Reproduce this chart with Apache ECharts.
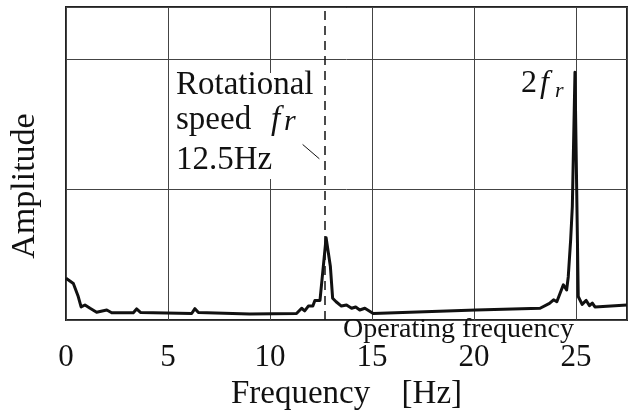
<!DOCTYPE html>
<html>
<head>
<meta charset="utf-8">
<script src="https://cdn.jsdelivr.net/npm/echarts@6/dist/echarts.min.js"></script>
<style>
html, body { margin: 0; padding: 0; background: #fff; }
#chart { width: 633px; height: 417px; }
</style>
</head>
<body>
<div id="chart"></div>
<script>
// spectrum: frequency [Hz] / amplitude (arbitrary units)
var freq = [0, 0.36, 0.6, 0.74, 0.93, 1.18, 1.5, 2.0, 2.24, 3.3, 3.46, 3.65, 6.16, 6.32, 6.49, 9.0,
	11.3, 11.55, 11.7, 11.88, 12.1, 12.2, 12.45, 12.75, 12.96, 13.07, 13.24, 13.5, 13.75, 14.0, 14.2,
	14.4, 14.65, 15.06, 20.1, 23.24, 23.7, 23.9, 24.06, 24.38, 24.46, 24.54, 24.62, 24.74, 24.82,
	24.95, 25.11, 25.3, 25.5, 25.66, 25.8, 25.93, 27.5];
var amp = [0.32, 0.28, 0.18, 0.10, 0.115, 0.09, 0.06, 0.077, 0.056, 0.056, 0.085, 0.058, 0.05, 0.087, 0.057, 0.046,
	0.05, 0.09, 0.07, 0.107, 0.107, 0.15, 0.15, 0.63, 0.41, 0.167, 0.14, 0.107, 0.115, 0.09, 0.10,
	0.077, 0.09, 0.05, 0.077, 0.09, 0.128, 0.155, 0.14, 0.27, 0.28, 0.23, 0.33, 0.62, 0.87,
	1.90, 0.18, 0.12, 0.15, 0.11, 0.13, 0.10, 0.115];
var xTicks = [0, 5, 10, 15, 20, 25];
var rotSpeed = 12.7;            // dashed marker position
var pointerX = [11.6, 12.42];   // small leader line under "12.5Hz"
var pointerY = [1.346, 1.236];

var serif = '"Liberation Serif", "DejaVu Serif", serif';
var chart = echarts.init(document.getElementById('chart'));

function txt(text, left, top, size, italic, z){
	return {
		type: 'text', left: left, top: top, z: z || 10,
		style: {
			text: text,
			font: (italic ? 'italic ' : '') + size + 'px ' + serif,
			fill: '#111'
		}
	};
}

var option = {
	animation: false,
	grid: {
		left: 66, right: 6, top: 7, bottom: 97,
		show: true,
		borderColor: '#222',
		borderWidth: 2
	},
	xAxis: {
		type: 'value',
		min: 0,
		max: 27.5,
		interval: 5,
		axisLine: { show: false },
		axisTick: { show: false },
		splitLine: { lineStyle: { color: '#444', width: 1 } },
		axisLabel: {
			color: '#111',
			fontFamily: serif,
			fontSize: 31,
			margin: 22,
			formatter: function(v){
				return xTicks.indexOf(v) >= 0 ? String(v) : '';
			}
		},
		name: 'Frequency   \u2009[Hz]',
		nameLocation: 'middle',
		nameGap: 56,
		nameTextStyle: { color: '#111', fontFamily: serif, fontSize: 33 }
	},
	yAxis: {
		type: 'value',
		min: 0,
		max: 2.4,
		interval: 1,
		axisLine: { show: false },
		axisTick: { show: false },
		axisLabel: { show: false },
		splitLine: { lineStyle: { color: '#444', width: 1 } }
	},
	series: [
		{
			type: 'line',
			z: 5,
			data: freq.map(function(f, i){ return [f, amp[i]]; }),
			symbol: 'none',
			lineStyle: { color: '#111', width: 3, join: 'round' },
			markLine: {
				silent: true,
				symbol: 'none',
				label: { show: false },
				lineStyle: { color: '#111', width: 1.5, type: [9, 6] },
				data: [{ xAxis: rotSpeed }]
			}
		},
		{
			type: 'line',
			z: 5,
			data: pointerX.map(function(f, i){ return [f, pointerY[i]]; }),
			symbol: 'none',
			lineStyle: { color: '#111', width: 1 }
		}
	],
	graphic: [
		// white box behind the annotation text
		{
			type: 'rect', z: 1,
			shape: { x: 174, y: 73, width: 143, height: 106 },
			style: { fill: '#fff' }
		},
		txt('Rotational', 176, 69, 33),
		txt('speed', 176, 104, 33),
		txt('f', 271, 104, 33, true),
		txt('r', 284, 107, 30, true),
		txt('12.5Hz', 176, 144, 33),
		txt('2', 521, 68, 32),
		txt('f', 540, 68, 32, true),
		txt('r', 555, 80, 22, true),
		txt('Operating frequency', 343, 316, 28),
		{
			type: 'text', x: 25, y: 186, rotation: Math.PI / 2, z: 10,
			style: {
				text: 'Amplitude',
				font: '34px ' + serif,
				fill: '#111',
				textAlign: 'center',
				textVerticalAlign: 'middle'
			}
		}
	]
};
chart.setOption(option);
</script>
</body>
</html>
